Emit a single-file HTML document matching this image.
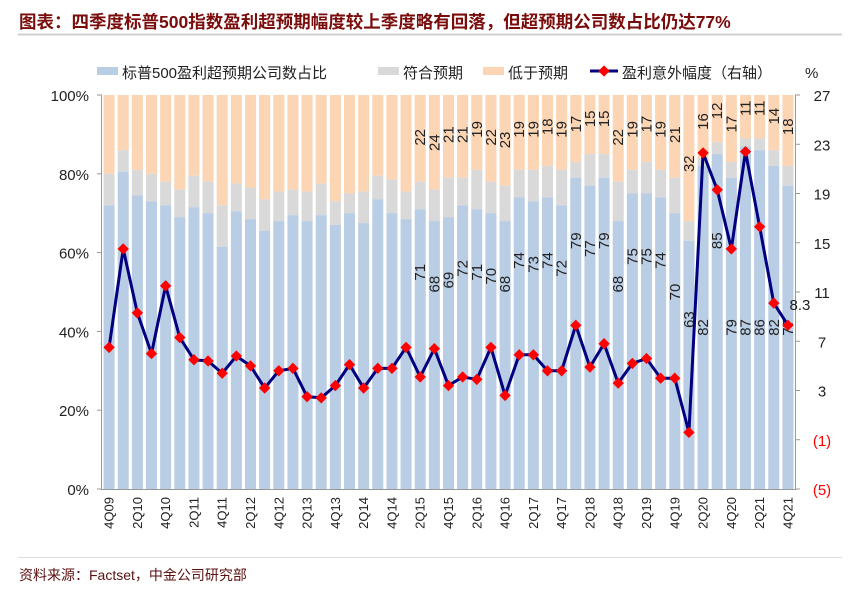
<!DOCTYPE html>
<html><head><meta charset="utf-8"><style>
body{margin:0;background:#fff;width:858px;height:592px;overflow:hidden;font-family:"Liberation Sans","Noto Sans CJK SC",sans-serif}
</style></head><body>
<svg id="c" width="858" height="592" xmlns="http://www.w3.org/2000/svg">
<text x="19" y="28" font-size="17.5" font-weight="bold" fill="#7a0c0c" font-family="Liberation Sans, Noto Sans CJK SC, sans-serif">图表：四季度标普500指数盈利超预期幅度较上季度略有回落，但超预期公司数占比仍达77%</text>
<line x1="18" y1="34.5" x2="842" y2="34.5" stroke="#d0d0d0" stroke-width="2"/>
<line x1="18" y1="557.5" x2="842" y2="557.5" stroke="#dcdcdc" stroke-width="1"/>
<text x="19" y="580" font-size="14" fill="#5a1010">资料来源：Factset，中金公司研究部</text>
<g>
<g><rect x="97" y="67" width="21" height="8" fill="#b9cde5"/><text x="122" y="78" font-size="15" fill="#222">标普500盈利超预期公司数占比</text></g>
<g><rect x="378" y="67" width="21" height="8" fill="#d9d9d9"/><text x="403" y="78" font-size="15" fill="#222">符合预期</text></g>
<g><rect x="483" y="67" width="21" height="8" fill="#fcd5b5"/><text x="508" y="78" font-size="15" fill="#222">低于预期</text></g>
<g><line x1="590" y1="71" x2="618" y2="71" stroke="#000080" stroke-width="3"/><rect x="600" y="67" width="8" height="8" fill="#ff0000" transform="rotate(45 604 71)"/><text x="622" y="78" font-size="15" fill="#222">盈利意外幅度（右轴）</text></g>
<text x="805" y="78" font-size="15" fill="#222">%</text>
</g>
<g id="plot"></g>
</svg>
<script>
const quarters=['4Q09','1Q10','2Q10','3Q10','4Q10','1Q11','2Q11','3Q11','4Q11','1Q12','2Q12','3Q12','4Q12','1Q13','2Q13','3Q13','4Q13','1Q14','2Q14','3Q14','4Q14','1Q15','2Q15','3Q15','4Q15','1Q16','2Q16','3Q16','4Q16','1Q17','2Q17','3Q17','4Q17','1Q18','2Q18','3Q18','4Q18','1Q19','2Q19','3Q19','4Q19','1Q20','2Q20','3Q20','4Q20','1Q21','2Q21','3Q21','4Q21'];
const beat=[72,80.5,74.5,73,72,69,71.5,70,61.5,70.5,68.5,65.5,68,69.5,68,69.5,67,70,67.5,73.5,70,68.5,71,68,69,72,71,70,68,74,73,74,72,79,77,79,68,75,75,74,70,63,82,85,79,87,86,82,77];
const miss=[20,14,19,20,22,24,20.5,22,28,22.5,23.5,26.5,24.5,24,24.5,22.5,27,25,24.5,20.5,21.5,24.5,22,24,21,21,19,22,23,19,19,18,19,17,15,15,22,19,17,19,21,32,16,12,17,11,11,14,18];
const surprise=[6.5,14.5,9.3,6.0,11.5,7.3,5.5,5.4,4.4,5.8,5.0,3.2,4.6,4.8,2.5,2.4,3.4,5.1,3.2,4.8,4.8,6.5,4.1,6.4,3.4,4.1,3.9,6.5,2.6,5.9,5.9,4.6,4.6,8.3,4.9,6.8,3.6,5.2,5.6,4.0,4.0,-0.4,22.3,19.3,14.5,22.4,16.3,10.1,8.3];
const leftTicks=[0,20,40,60,80,100];
const rightTicks=[27,23,19,15,11,7,3,-1,-5];
const labelStart=22;

const X0=102,X1=795,Y0=489,Y1=95;
const step=(X1-X0)/quarters.length;
const xC=i=>X0+step*(i+0.5);
const yL=v=>Y0-(v/100)*(Y0-Y1);
const yR=v=>Y0-((v+5)/32)*(Y0-Y1);
const NS='http://www.w3.org/2000/svg';
const plot=document.getElementById('plot');
function mk(tag,attrs,parent){const e=document.createElementNS(NS,tag);for(const k in attrs)e.setAttribute(k,attrs[k]);(parent||plot).appendChild(e);return e;}

quarters.forEach((q,i)=>{
  const w=step*0.78,x=xC(i)-w/2;
  const inl=100-beat[i]-miss[i];
  const g=mk('g',{});
  
  
  const r1=mk('rect',{x:x,y:yL(100),width:w,height:yL(beat[i]+inl)-yL(100),fill:'#fcd5b5'},g);
  
  
  const r2=mk('rect',{x:x,y:yL(beat[i]+inl),width:w,height:yL(beat[i])-yL(beat[i]+inl),fill:'#d9d9d9'},g);
  
  
  const r3=mk('rect',{x:x,y:yL(beat[i]),width:w,height:Y0-yL(beat[i]),fill:'#b9cde5'},g);
  
  
  if(i%2===0){
    const t=mk('text',{x:0,y:0,'font-size':13,fill:'#222','text-anchor':'end',transform:`translate(${xC(i)+4.5},497) rotate(-90)`});
    t.textContent=q;
    
    
  }
});
const la=mk('path',{d:`M${X0-0.5},${Y1} V${Y0+0.5} H${X1+0.5} V${Y1}`,stroke:'#999',fill:'none'});


leftTicks.forEach(v=>{
  const tk=mk('line',{x1:X0-5,x2:X0,y1:yL(v),y2:yL(v),stroke:'#999'});
  
  
  const t=mk('text',{x:89,y:yL(v)+6,'font-size':15,fill:'#222','text-anchor':'end'});
  t.textContent=v+'%';
  
  
});
rightTicks.forEach(v=>{
  const tk=mk('line',{x1:X1,x2:X1+5,y1:yR(v),y2:yR(v),stroke:'#999'});
  
  
  const t=mk('text',{x:822,y:yR(v)+6,'font-size':15,fill:v<0?'#ff0000':'#222','text-anchor':'middle'});
  t.textContent=v<0?'('+(-v)+')':String(v);
  
  
});
quarters.forEach((q,i)=>{
  if(i<labelStart)return;
  const cx=xC(i)+5;
  let by=yL(beat[i]-16);
  if(i>=40&&i<42) by=yL(beat[i]-20);
  if(i>=42) by=(i===43)?yL(63):yL(41);
  const tb=mk('text',{x:0,y:0,'font-size':15,fill:'#222','text-anchor':'middle',transform:`translate(${cx},${by}) rotate(-90)`});
  tb.textContent=Math.round(beat[i]);
  
  
  const tm=mk('text',{x:0,y:0,'font-size':15,fill:'#222','text-anchor':'middle',transform:`translate(${cx},${yL(104-0.67*miss[i])}) rotate(-90)`});
  tm.textContent=Math.round(miss[i]);
  
  
});
const pts=surprise.map((v,i)=>xC(i)+','+yR(v)).join(' ');
const pl=mk('polyline',{points:pts,fill:'none',stroke:'#000080','stroke-width':3,'stroke-linejoin':'round'});


surprise.forEach((v,i)=>{
  const m=mk('rect',{x:xC(i)-4,y:yR(v)-4,width:8,height:8,fill:'#ff0000',transform:`rotate(45 ${xC(i)} ${yR(v)})`});
  
  
});
const last=surprise.length-1;
const lt=mk('text',{x:xC(last)+12,y:yR(surprise[last])-15,'font-size':15,fill:'#222','text-anchor':'middle'});
lt.textContent=surprise[last].toFixed(1);


</script>
</body></html>
